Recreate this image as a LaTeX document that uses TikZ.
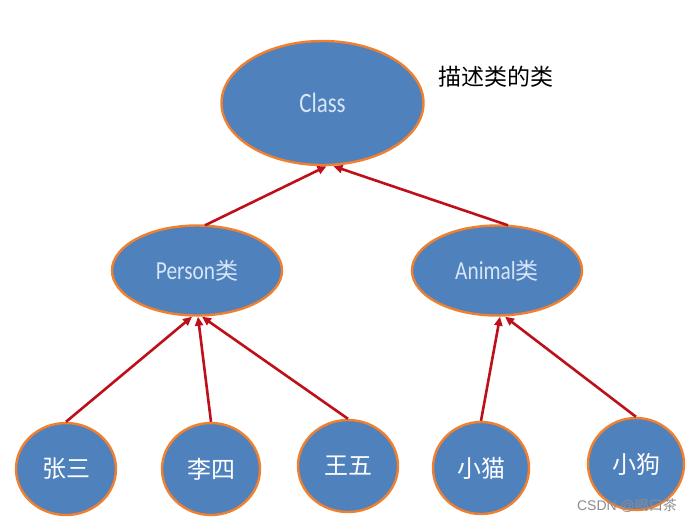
\documentclass[tikz,border=0pt]{standalone}
\usepackage{fontspec}
\setmainfont{Carlito}
\newfontfamily\narrowfont[FakeStretch=0.82]{Carlito}
\newfontfamily\cjk{Noto Sans CJK SC}
\newfontfamily\wmfont{Liberation Sans}
\usetikzlibrary{shapes.geometric,arrows.meta}
\definecolor{nodeblue}{RGB}{79,129,189}
\definecolor{rimorange}{RGB}{238,128,48}
\definecolor{arrowred}{RGB}{190,16,26}
\definecolor{labelblue}{RGB}{214,230,246}
\definecolor{wmgray}{RGB}{140,140,140}
\begin{document}
\begin{tikzpicture}[x=1pt,y=-1pt,
  blob/.style={ellipse, draw=rimorange, fill=nodeblue, line width=2.4pt, inner sep=0pt, text=labelblue},
  mid/.style={blob, minimum width=170pt, minimum height=90pt, font=\narrowfont\fontsize{26}{26}\selectfont},
  leaf/.style={blob, minimum width=98pt, minimum height=92pt, font=\cjk\fontsize{24}{24}\selectfont, text=white},
  arr/.style={draw=arrowred, line width=2.6pt, -{Triangle[length=9pt,width=8pt]}},
]
\useasboundingbox (0,0) rectangle (693,523);
\node[blob, minimum width=202pt, minimum height=124pt, font=\narrowfont\fontsize{28}{28}\selectfont] (class) at (322.5,103) {Class};
\node[font=\cjk\fontsize{23}{23}\selectfont, text=black] (desc) at (496,77) {描述类的类};
\node[mid] (person) at (197,270.5) {Person{\cjk\fontsize{23}{23}\selectfont 类}};
\node[mid] (animal) at (497,270.5) {Animal{\cjk\fontsize{23}{23}\selectfont 类}};
\node[leaf, minimum width=100pt] (zs) at (66,469) {张三};
\node[leaf] (ls) at (211,469) {李四};
\node[leaf, minimum width=100pt] (ww) at (348,466) {王五};
\node[leaf, minimum width=96pt] (xm) at (481,468) {小猫};
\node[leaf, minimum width=96pt] (xg) at (636,464) {小狗};
\draw[arr] ([xshift=8pt,yshift=-1pt]person.north) -- ([xshift=4pt]class.south);
\draw[arr] ([xshift=11pt,yshift=-1pt]animal.north) -- ([xshift=11pt]class.south);
\draw[arr] (zs.north) -- ([xshift=-5pt]person.south);
\draw[arr] (ls.north) -- ([xshift=1pt]person.south);
\draw[arr] (ww.north) -- ([xshift=5pt]person.south);
\draw[arr] (xm.north) -- ([xshift=3pt]animal.south);
\draw[arr] (xg.north) -- ([xshift=8pt]animal.south);
\node[font=\wmfont\fontsize{14}{14}\selectfont, text=wmgray, inner sep=0pt] (wm) at (627,506) {CSDN @{\cjk 喝口茶}};
\end{tikzpicture}
\end{document}
